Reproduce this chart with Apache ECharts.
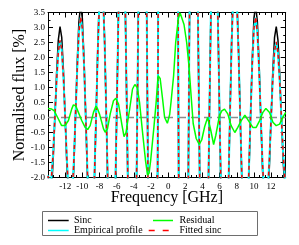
<!DOCTYPE html>
<html><head><meta charset="utf-8">
<script src="https://cdn.jsdelivr.net/npm/echarts@6/dist/echarts.min.js"></script>
<style>html,body{margin:0;padding:0;background:#fff}#c{width:299px;height:245px}</style>
</head><body><div id="c"></div>
<script>
// Frequency grid (GHz) shared by the three profile curves
const freq = [-14.0,-13.8,-13.6,-13.4,-13.2,-13.0,-12.8,-12.6,-12.4,-12.2,-12.0,-11.8,-11.6,-11.4,-11.2,-11.0,-10.8,-10.6,-10.4,-10.2,-10.0,-9.8,-9.6,-9.4,-9.2,-9.0,-8.8,-8.6,-8.4,-8.2,-8.0,-7.8,-7.6,-7.4,-7.2,-7.0,-6.8,-6.6,-6.4,-6.2,-6.0,-5.8,-5.6,-5.4,-5.2,-5.0,-4.8,-4.6,-4.4,-4.2,-4.0,-3.8,-3.6,-3.4,-3.2,-3.0,-2.8,-2.6,-2.4,-2.2,-2.0,-1.8,-1.6,-1.4,-1.2,-1.0,-0.8,-0.6,-0.4,-0.2,0.0,0.2,0.4,0.6,0.8,1.0,1.2,1.4,1.6,1.8,2.0,2.2,2.4,2.6,2.8,3.0,3.2,3.4,3.6,3.8,4.0,4.2,4.4,4.6,4.8,5.0,5.2,5.4,5.6,5.8,6.0,6.2,6.4,6.6,6.8,7.0,7.2,7.4,7.6,7.8,8.0,8.2,8.4,8.6,8.8,9.0,9.2,9.4,9.6,9.8,10.0,10.2,10.4,10.6,10.8,11.0,11.2,11.4,11.6,11.8,12.0,12.2,12.4,12.6,12.8,13.0,13.2,13.4,13.6,13.8];

// Sinc (%)
const sincVals = [-2.36,-2.77,-2.43,-1.43,0,1.47,2.58,3.03,2.67,1.57,0,-1.62,-2.85,-3.35,-2.95,-1.74,0,1.80,3.18,3.74,3.31,1.95,0,-2.03,-3.60,-4.24,-3.76,-2.22,0,2.33,4.14,4.90,4.35,2.58,0,-2.73,-4.86,-5.79,-5.17,-3.08,0,3.29,5.91,7.07,6.36,3.82,0,-4.15,-7.52,-9.09,-8.27,-5.03,0,5.62,10.34,12.73,11.81,7.35,0,-8.68,-16.54,-21.22,-20.68,-13.64,0,19.10,41.35,63.66,82.70,95.49,
100,
95.49,82.70,63.66,41.35,19.10,0,-13.64,-20.68,-21.22,-16.54,-8.68,0,7.35,11.81,12.73,10.34,5.62,0,-5.03,-8.27,-9.09,-7.52,-4.15,0,3.82,6.36,7.07,5.91,3.29,0,-3.08,-5.17,-5.79,-4.86,-2.73,0,2.58,4.35,4.90,4.14,2.33,0,-2.22,-3.76,-4.24,-3.60,-2.03,0,1.95,3.31,3.74,3.18,1.80,0,-1.74,-2.95,-3.35,-2.85,-1.62,0,1.57,2.67,3.03,2.58,1.47,0,-1.43,-2.43,-2.77];

// Empirical profile (%)
const empiricalVals = [-1.93,-2.27,-2.00,-1.18,0,1.22,2.16,2.55,2.25,1.33,0,-1.39,-2.45,-2.90,-2.57,-1.52,0,1.58,2.81,3.33,2.96,1.76,0,-1.85,-3.29,-3.90,-3.50,-2.08,0,2.19,3.91,4.65,4.15,2.47,0,-2.63,-4.70,-5.60,-5.17,-3.08,0,3.29,5.91,7.07,6.36,3.82,0,-4.15,-7.52,-9.09,-8.27,-5.03,0,5.62,10.34,12.73,11.81,7.35,0,-8.68,-16.54,-21.22,-20.68,-13.64,0,19.10,41.35,63.66,82.70,95.49,
100,
95.49,82.70,63.66,41.35,19.10,0,-13.64,-20.68,-21.22,-16.54,-8.68,0,7.35,11.81,12.73,10.34,5.62,0,-5.03,-8.27,-9.09,-7.52,-4.15,0,3.82,6.36,7.07,5.91,3.29,0,-3.08,-5.17,-5.60,-4.70,-2.63,0,2.47,4.15,4.65,3.91,2.19,0,-2.08,-3.50,-3.90,-3.29,-1.85,0,1.76,2.96,3.33,2.81,1.58,0,-1.52,-2.57,-2.90,-2.45,-1.39,0,1.31,2.21,2.50,2.13,1.21,0,-1.18,-2.00,-2.27];

// Fitted sinc (%)
const fittedVals = [-1.95,-2.29,-2.01,-1.19,0,1.23,2.18,2.57,2.27,1.34,0,-1.40,-2.47,-2.92,-2.58,-1.53,0,1.59,2.83,3.35,2.98,1.77,0,-1.86,-3.31,-3.92,-3.52,-2.09,0,2.20,3.93,4.67,4.17,2.48,0,-2.64,-4.72,-5.62,-5.17,-3.08,0,3.29,5.91,7.07,6.36,3.82,0,-4.15,-7.52,-9.09,-8.27,-5.03,0,5.62,10.34,12.73,11.81,7.35,0,-8.68,-16.54,-21.22,-20.68,-13.64,0,19.10,41.35,63.66,82.70,95.49,
100,
95.49,82.70,63.66,41.35,19.10,0,-13.64,-20.68,-21.22,-16.54,-8.68,0,7.35,11.81,12.73,10.34,5.62,0,-5.03,-8.27,-9.09,-7.52,-4.15,0,3.82,6.36,7.07,5.91,3.29,0,-3.08,-5.17,-5.62,-4.72,-2.64,0,2.48,4.17,4.67,3.93,2.20,0,-2.09,-3.52,-3.92,-3.31,-1.86,0,1.77,2.98,3.35,2.83,1.59,0,-1.53,-2.58,-2.92,-2.47,-1.40,0,1.32,2.23,2.52,2.15,1.22,0,-1.19,-2.01,-2.29];

// Residual (%)
const residFreq = [-14.0,-13.57,-13.29,-12.79,-12.41,-12.01,-11.62,-11.24,-11.04,-10.77,-10.46,-10.07,-9.67,-9.37,-9.09,-8.70,-8.41,-8.24,-8.00,-7.53,-7.34,-7.07,-6.75,-6.37,-6.10,-5.78,-5.40,-5.14,-4.91,-4.50,-4.15,-3.88,-3.60,-3.33,-2.98,-2.63,-2.40,-2.22,-2.04,-1.66,-1.40,-1.17,-0.93,-0.64,-0.41,-0.09,0.18,0.35,0.64,0.88,1.19,1.40,1.58,1.85,2.16,2.43,2.71,2.92,3.27,3.62,3.91,4.26,4.60,4.95,5.30,5.55,5.98,6.25,6.57,6.95,7.34,7.77,8.12,8.50,8.94,9.14,9.49,9.87,10.26,10.65,11.04,11.39,11.82,12.21,12.59,12.99,13.38,13.70];
const residVals = [0.30,0.28,0.23,-0.05,-0.27,-0.27,-0.10,0.28,0.42,0.39,0.17,-0.10,-0.33,-0.40,-0.27,0.17,0.38,0.30,0.12,-0.38,-0.49,-0.38,0.12,0.56,0.64,0.45,-0.22,-0.64,-0.50,0.25,0.95,1.10,1.00,0.50,-0.50,-1.45,-1.92,-1.85,-1.44,-0.33,0.50,1.39,1.30,0.60,0.00,-0.19,0.10,0.55,1.40,2.50,3.30,3.48,3.45,3.10,2.50,1.70,0.60,-0.20,-0.70,-0.90,-0.75,-0.30,0.00,-0.40,-0.90,-0.60,0.06,0.22,0.28,0.12,-0.27,-0.50,-0.33,-0.11,0.08,0.14,-0.16,-0.33,-0.33,-0.11,0.17,0.30,0.17,-0.16,-0.27,-0.22,0.01,0.17];

const seriesNames = ['Sinc', 'Empirical profile', 'Residual', 'Fitted sinc'];
const xRange = [-14, 13.7];
const yRange = [-2, 3.5];

const FONT = 'Liberation Serif';
const COLORS = {sinc: '#000000', emp: '#00ffff', resid: '#00ff00', fit: '#ff0000'};
const pair = (xs, ys) => xs.map((x, i) => [x, ys[i]]);
const chart = echarts.init(document.getElementById('c'), null, {renderer: 'canvas'});

const baseX = {
  type: 'value', min: xRange[0], max: xRange[1], interval: 2,
  axisLine: {onZero: false, lineStyle: {color: '#000', width: 1}},
  axisTick: {inside: true, length: 5, lineStyle: {color: '#000', width: 1}},
  minorTick: {show: true, splitNumber: 3, length: 2.5, lineStyle: {color: '#000', width: 1}},
  splitLine: {show: false}, minorSplitLine: {show: false}
};
const baseY = {
  type: 'value', min: yRange[0], max: yRange[1], interval: 0.5,
  axisLine: {onZero: false, lineStyle: {color: '#000', width: 1}},
  axisTick: {inside: true, length: 5, lineStyle: {color: '#000', width: 1}},
  minorTick: {show: true, splitNumber: 2, length: 2.5, lineStyle: {color: '#000', width: 1}},
  splitLine: {show: false}, minorSplitLine: {show: false}
};

// legend drawn as graphic (box, line samples, labels)
function legendLine(x1, x2, y, color, width, dash) {
  return {type: 'line', silent: true, shape: {x1: x1, y1: y, x2: x2, y2: y},
          style: {stroke: color, lineWidth: width, lineDash: dash || null}};
}
function legendText(x, y, text) {
  return {type: 'text', silent: true, x: x, y: y,
          style: {text: text, fill: '#000', fontFamily: FONT, fontSize: 10, verticalAlign: 'middle', align: 'left'}};
}

chart.setOption({
  animation: false,
  backgroundColor: '#fff',
  grid: {left: 48, right: 13.3, top: 12.5, bottom: 67.5},
  xAxis: [
    Object.assign({}, baseX, {
      position: 'bottom',
      name: 'Frequency [GHz]', nameLocation: 'middle', nameGap: 12.5, nameMoveOverlap: false,
      nameTextStyle: {fontFamily: FONT, fontSize: 16, color: '#000'},
      axisLabel: {fontFamily: FONT, fontSize: 9, color: '#000', margin: 5, showMinLabel: false, showMaxLabel: false}
    }),
    Object.assign({}, baseX, {position: 'top', axisLabel: {show: false}})
  ],
  yAxis: [
    Object.assign({}, baseY, {
      position: 'left',
      name: 'Normalised flux [%]', nameLocation: 'middle', nameGap: 20, nameRotate: 90, nameMoveOverlap: false,
      nameTextStyle: {fontFamily: FONT, fontSize: 16, color: '#000'},
      axisLabel: {fontFamily: FONT, fontSize: 9, color: '#000', margin: 3, formatter: v => v.toFixed(1)}
    }),
    Object.assign({}, baseY, {position: 'right', axisLabel: {show: false}})
  ],
  graphic: [
    {type: 'rect', silent: true, shape: {x: 42.5, y: 211.5, width: 215, height: 24},
     style: {fill: null, stroke: '#6e6e6e', lineWidth: 1}},
    legendLine(48, 68.7, 220.5, COLORS.sinc, 1.5),
    legendText(74, 220.5, seriesNames[0]),
    legendLine(48, 68.7, 230.5, COLORS.emp, 1.5),
    legendText(74, 230.5, seriesNames[1]),
    legendLine(153, 173, 220.5, COLORS.resid, 1.5),
    legendText(179.5, 220.5, seriesNames[2]),
    legendLine(148.7, 170, 230.5, COLORS.fit, 1.5, [6, 8]),
    legendText(179.5, 230.5, seriesNames[3])
  ],
  series: [
    {type: 'line', name: 'zero', data: [[xRange[0], 0], [xRange[1], 0]], symbol: 'none', silent: true,
     lineStyle: {color: '#8c8c8c', width: 1.5, type: [8, 5]}, z: 1},
    {type: 'line', name: seriesNames[0], data: pair(freq, sincVals), symbol: 'none',
     lineStyle: {color: COLORS.sinc, width: 1.5}, z: 2},
    {type: 'line', name: seriesNames[1], data: pair(freq, empiricalVals), symbol: 'none',
     lineStyle: {color: COLORS.emp, width: 2}, z: 3},
    {type: 'line', name: seriesNames[3], data: pair(freq, fittedVals), symbol: 'none',
     lineStyle: {color: COLORS.fit, width: 1.5, type: [4, 3]}, z: 4},
    {type: 'line', name: seriesNames[2], data: pair(residFreq, residVals), symbol: 'none',
     lineStyle: {color: COLORS.resid, width: 1.5}, z: 5}
  ]
});
</script>
</body></html>
